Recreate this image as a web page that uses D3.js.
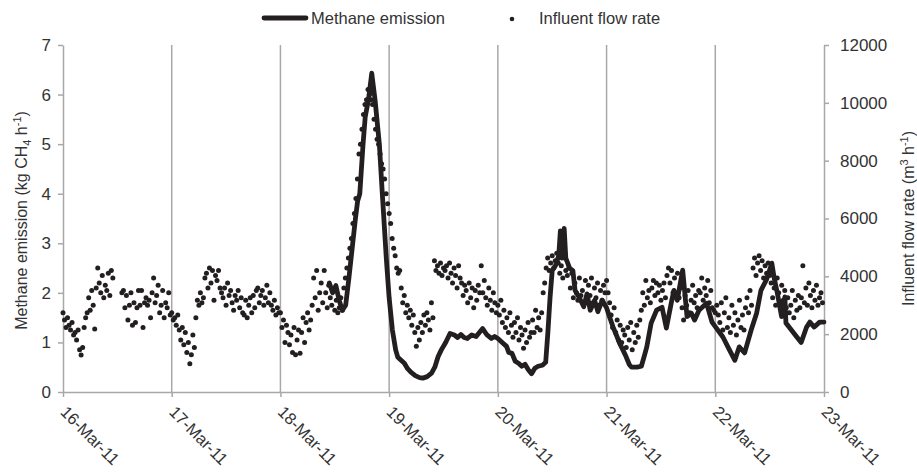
<!DOCTYPE html>
<html><head><meta charset="utf-8">
<script src="https://cdn.jsdelivr.net/npm/d3@7"></script>
<style>
body{margin:0;background:#fff;}
text{font-family:"Liberation Sans",Arial,sans-serif;fill:#333;}
</style></head>
<body><svg id="c" width="917" height="474"></svg>
<script>
// ---- data ----
const dayLabels = ["16-Mar-11","17-Mar-11","18-Mar-11","19-Mar-11","20-Mar-11","21-Mar-11","22-Mar-11","23-Mar-11"];
const leftTicks = [0,1,2,3,4,5,6,7];
const rightTicks = [0,2000,4000,6000,8000,10000,12000];
const seriesNames = ["Methane emission","Influent flow rate"];
// Methane emission (kg CH4/h): time in days since 16-Mar-11 00:00
const methaneDays = [2.45,2.48,2.51,2.54,2.57,2.60,2.63,2.66,2.69,2.71,2.73,2.76,2.78,2.81,2.84,2.87,2.91,2.94,2.975,3.00,3.03,3.06,3.08,3.11,3.14,3.17,3.20,3.24,3.28,3.31,3.35,3.39,3.42,3.45,3.48,3.52,3.56,3.60,3.63,3.66,3.69,3.72,3.76,3.80,3.83,3.86,3.90,3.94,3.97,4.00,4.04,4.08,4.10,4.13,4.16,4.19,4.22,4.25,4.28,4.31,4.34,4.37,4.41,4.44,4.46,4.48,4.50,4.53,4.56,4.575,4.59,4.61,4.625,4.66,4.69,4.71,4.75,4.79,4.82,4.85,4.89,4.92,4.96,5.00,5.03,5.06,5.09,5.12,5.15,5.18,5.21,5.23,5.28,5.32,5.35,5.37,5.41,5.46,5.51,5.55,5.60,5.62,5.65,5.70,5.74,5.78,5.81,5.85,5.92,5.97,6.01,6.07,6.13,6.18,6.22,6.27,6.33,6.38,6.42,6.47,6.52,6.54,6.57,6.61,6.64,6.65,6.70,6.75,6.79,6.84,6.87,6.91,6.96,7.00];
const methaneValues = [2.2,2.0,2.15,1.85,1.65,1.75,2.3,2.9,3.5,3.85,4.0,5.0,5.55,5.9,6.43,5.9,5.0,3.9,2.66,1.9,1.25,0.85,0.7,0.64,0.58,0.47,0.4,0.33,0.29,0.28,0.31,0.38,0.5,0.71,0.85,1.0,1.18,1.15,1.1,1.16,1.1,1.08,1.15,1.12,1.2,1.28,1.15,1.08,1.12,1.08,1.0,0.92,0.8,0.78,0.62,0.58,0.52,0.56,0.45,0.37,0.48,0.52,0.54,0.6,1.2,1.9,2.45,2.55,2.75,3.25,2.7,3.3,2.7,2.5,2.45,2.05,1.9,1.72,1.98,1.65,1.85,1.62,1.85,1.7,1.5,1.31,1.15,0.98,0.85,0.71,0.55,0.5,0.5,0.52,0.75,0.91,1.39,1.65,1.71,1.29,1.85,2.05,1.85,2.46,1.52,1.59,1.45,1.65,1.79,1.41,1.29,1.11,0.85,0.64,0.91,0.79,1.25,1.59,2.05,2.26,2.6,2.32,2.0,1.52,1.92,1.39,1.25,1.11,1.0,1.31,1.41,1.31,1.41,1.41];
// Influent flow rate (m3/h): one reading every 20 minutes from 16-Mar-11 00:00 (null = missing)
const flowStepMinutes = 20;
const flowValues = [
// 16-Mar
2740,2490,2230,2570,2310,2140,2400,1970,2060,1800,2140,1460,1280,1540,2230,2570,2740,
3260,2830,3510,3000,2180,3600,
4290,3770,3430,4030,3260,3690,3510,4110,3340,4200,3940,
null,null,null,null,null,
3430,3510,2910,3340,2490,3000,3430,2310,3090,2400,2910,3510,
3000,3510,2230,3090,3260,3000,
3170,2570,3430,3940,3090,3340,3690,
2740,3000,3510,2570,3090,2910,3430,2660,
// 17-Mar
2740,2490,2570,2310,2660,
2140,1800,2230,1630,2060,1370,1710,980,1290,1970,1540,
2570,3170,3000,3430,3090,3260,
3940,4110,3600,4290,3770,4200,3170,4030,3860,4200,3600,
3430,3260,3600,3000,3770,3340,3510,3090,2830,3340,3170,3510,2910,3260,2740,
2660,3170,2570,3000,3260,2740,3340,2910,3510,
3600,3090,3340,3510,3000,3260,3690,3090,3430,
3000,2830,3170,2660,2910,2740,
// 18-Mar
2740,2230,2490,1710,2310,2060,1630,
1970,1370,2230,1290,1800,2140,1340,
2060,2570,1710,2400,2740,2140,2490,
3000,3940,3260,4200,2830,3430,3770,
3090,4200,3430,2910,3690,3260,3000,3510,2830,3170,2740,
2910,3260,2830,3600,
3940,4290,4630,4970,5310,5830,6170,6690,7370,8230,8570,9090,9600,9940,10110,10460,10290,
10110,9940,9430,9090,8740,8570,8230,7890,7710,7370,6860,6510,
// 19-Mar
6170,5830,5310,4970,
4710,4290,4110,4200,
3600,3090,3340,2740,3000,2570,2830,
2310,2660,2060,1580,2230,1800,
2400,2060,2660,2310,2740,2490,2140,3090,2570,
4540,4200,4370,4110,4460,4030,4290,4200,4370,3940,4460,
4110,3770,4290,4030,3600,4370,3940,
3770,3340,3690,3510,3090,3770,3260,3600,2910,3510,3170,3690,3430,
4370,3430,3860,3260,3000,3600,3170,2830,3430,3090,2740,
// 20-Mar
3000,2660,3170,2400,2830,2230,2570,2060,2740,
2310,1890,2400,2060,2570,1800,2230,1970,1510,2140,1710,2400,1890,2060,
2490,2060,2830,2230,2570,2140,2740,
3430,3770,
4290,4630,4200,4460,4710,4290,4540,
4800,4460,4110,4370,3940,4630,4200,4030,4290,
3600,4110,3260,3770,3430,3170,3940,3340,3510,3090,3860,3260,3690,
3340,3940,3090,3600,3260,3770,3000,3510,3170,3690,3430,
// 21-Mar
3860,3430,
3090,2660,2230,2910,2060,2490,1800,2310,1710,2140,1970,
1540,2230,1800,2400,1460,2060,1710,2310,1890,2490,
2830,3430,3000,3860,3260,3510,3090,
3600,3860,3340,3770,3430,3690,3170,3510,3770,3260,
4030,4290,3770,4200,3430,3940,3340,4110,
3260,3600,2910,2490,3340,3000,3510,2740,3170,3690,3090,3340,2910,3510,
3430,3940,3170,3600,3340,3860,3090,3510,
2910,2830,
// 22-Mar
2740,3000,2660,
2400,3090,2140,2740,3260,2230,2570,2060,3000,2310,2740,1970,2490,3170,2230,2660,2140,2910,
3260,2740,3510,3000,
4290,4630,4030,4460,4710,4200,4540,3940,4370,4110,4460,4030,
3770,3260,3600,3000,3940,3430,3090,3690,3170,3510,2910,
3260,2740,3000,3510,2570,3170,2830,3340,2910,
3260,4370,3090,3600,3000,3770,3340,2910,3510,3170,3690,3000,3260,3430,3090
];

// ---- chart ----
const svg = d3.select("#c");
const m = {left:63, right:824, top:45, bottom:392};
const t0 = new Date(2011,2,16);
const dayMs = 86400000;
const toDate = d => new Date(t0.getTime() + d*dayMs);
const dayDates = dayLabels.map((_,i)=>toDate(i));

const x = d3.scaleTime().domain([dayDates[0], dayDates[dayDates.length-1]]).range([m.left, m.right]);
const yL = d3.scaleLinear().domain([0,7]).range([m.bottom, m.top]);
const yR = d3.scaleLinear().domain([0,12000]).range([m.bottom, m.top]);

const gridCol = "#a8a8a8";
const inkCol = "#231f20";

// vertical gridlines
svg.append("g").selectAll("line").data(dayDates.slice(1,-1)).join("line")
  .attr("x1",d=>x(d)).attr("x2",d=>x(d)).attr("y1",m.top).attr("y2",m.bottom)
  .attr("stroke",gridCol).attr("stroke-width",1.5);

function styleAxis(g){
  g.selectAll(".domain").attr("stroke",gridCol).attr("stroke-width",1.5);
  g.selectAll(".tick line").attr("stroke",gridCol).attr("stroke-width",1.5);
  g.selectAll("text").attr("fill","#333").style("font-size","17px").style("font-family","'Liberation Sans',Arial,sans-serif");
}
const gL = svg.append("g").attr("transform",`translate(${m.left},0)`)
  .call(d3.axisLeft(yL).tickValues(leftTicks).tickSize(5).tickSizeOuter(0).tickPadding(7).tickFormat(d3.format("d")));
styleAxis(gL);
const gR = svg.append("g").attr("transform",`translate(${m.right},0)`)
  .call(d3.axisRight(yR).tickValues(rightTicks).tickSize(5).tickSizeOuter(0).tickPadding(11).tickFormat(d3.format("d")));
styleAxis(gR);
const gB = svg.append("g").attr("transform",`translate(0,${m.bottom})`)
  .call(d3.axisBottom(x).tickValues(dayDates).tickSize(5).tickSizeOuter(0).tickFormat((d,i)=>dayLabels[i]));
styleAxis(gB);
gB.selectAll(".tick text")
  .attr("text-anchor","start").attr("x",0).attr("y",0).attr("dy","0.35em")
  .attr("transform","translate(0,17) rotate(45)")
  .style("font-size","16.5px");

// flow dots
const flowPts = flowValues.map((v,i)=>({t:new Date(t0.getTime()+i*flowStepMinutes*60000), v})).filter(d=>d.v!=null);
svg.append("g").selectAll("circle").data(flowPts).join("circle")
  .attr("cx",d=>x(d.t)).attr("cy",d=>yR(d.v)).attr("r",2.5).attr("fill",inkCol);

// methane line
const mPts = methaneDays.map((d,i)=>({t:toDate(d), v:methaneValues[i]}));
svg.append("path").datum(mPts)
  .attr("d", d3.line().x(d=>x(d.t)).y(d=>yL(d.v)))
  .attr("fill","none").attr("stroke",inkCol).attr("stroke-width",4.8)
  .attr("stroke-linejoin","round").attr("stroke-linecap","round");

// axis titles
const tL = svg.append("text").attr("transform",`translate(27,${(m.top+m.bottom)/2+2}) rotate(-90)`)
  .attr("text-anchor","middle").style("font-size","16px");
tL.append("tspan").text("Methane emission (kg CH");
tL.append("tspan").text("4").attr("dy","4").style("font-size","11px");
tL.append("tspan").text(" h").attr("dy","-4");
tL.append("tspan").text("-1").attr("dy","-6").style("font-size","11px");
tL.append("tspan").text(")").attr("dy","6");

const tR = svg.append("text").attr("transform",`translate(914,${(m.top+m.bottom)/2}) rotate(-90)`)
  .attr("text-anchor","middle").style("font-size","16px");
tR.append("tspan").text("Influent flow rate (m");
tR.append("tspan").text("3").attr("dy","-6").style("font-size","11px");
tR.append("tspan").text(" h").attr("dy","6");
tR.append("tspan").text("-1").attr("dy","-6").style("font-size","11px");
tR.append("tspan").text(")").attr("dy","6");

// legend
const lg = svg.append("g");
lg.append("line").attr("x1",264).attr("x2",306).attr("y1",18).attr("y2",18)
  .attr("stroke",inkCol).attr("stroke-width",4.8).attr("stroke-linecap","round");
lg.append("text").attr("x",311).attr("y",18).attr("dy","0.35em").style("font-size","16.5px").text(seriesNames[0]);
lg.append("circle").attr("cx",512).attr("cy",19).attr("r",2.3).attr("fill",inkCol);
lg.append("text").attr("x",539).attr("y",18).attr("dy","0.35em").style("font-size","16.5px").text(seriesNames[1]);
</script></body></html>
